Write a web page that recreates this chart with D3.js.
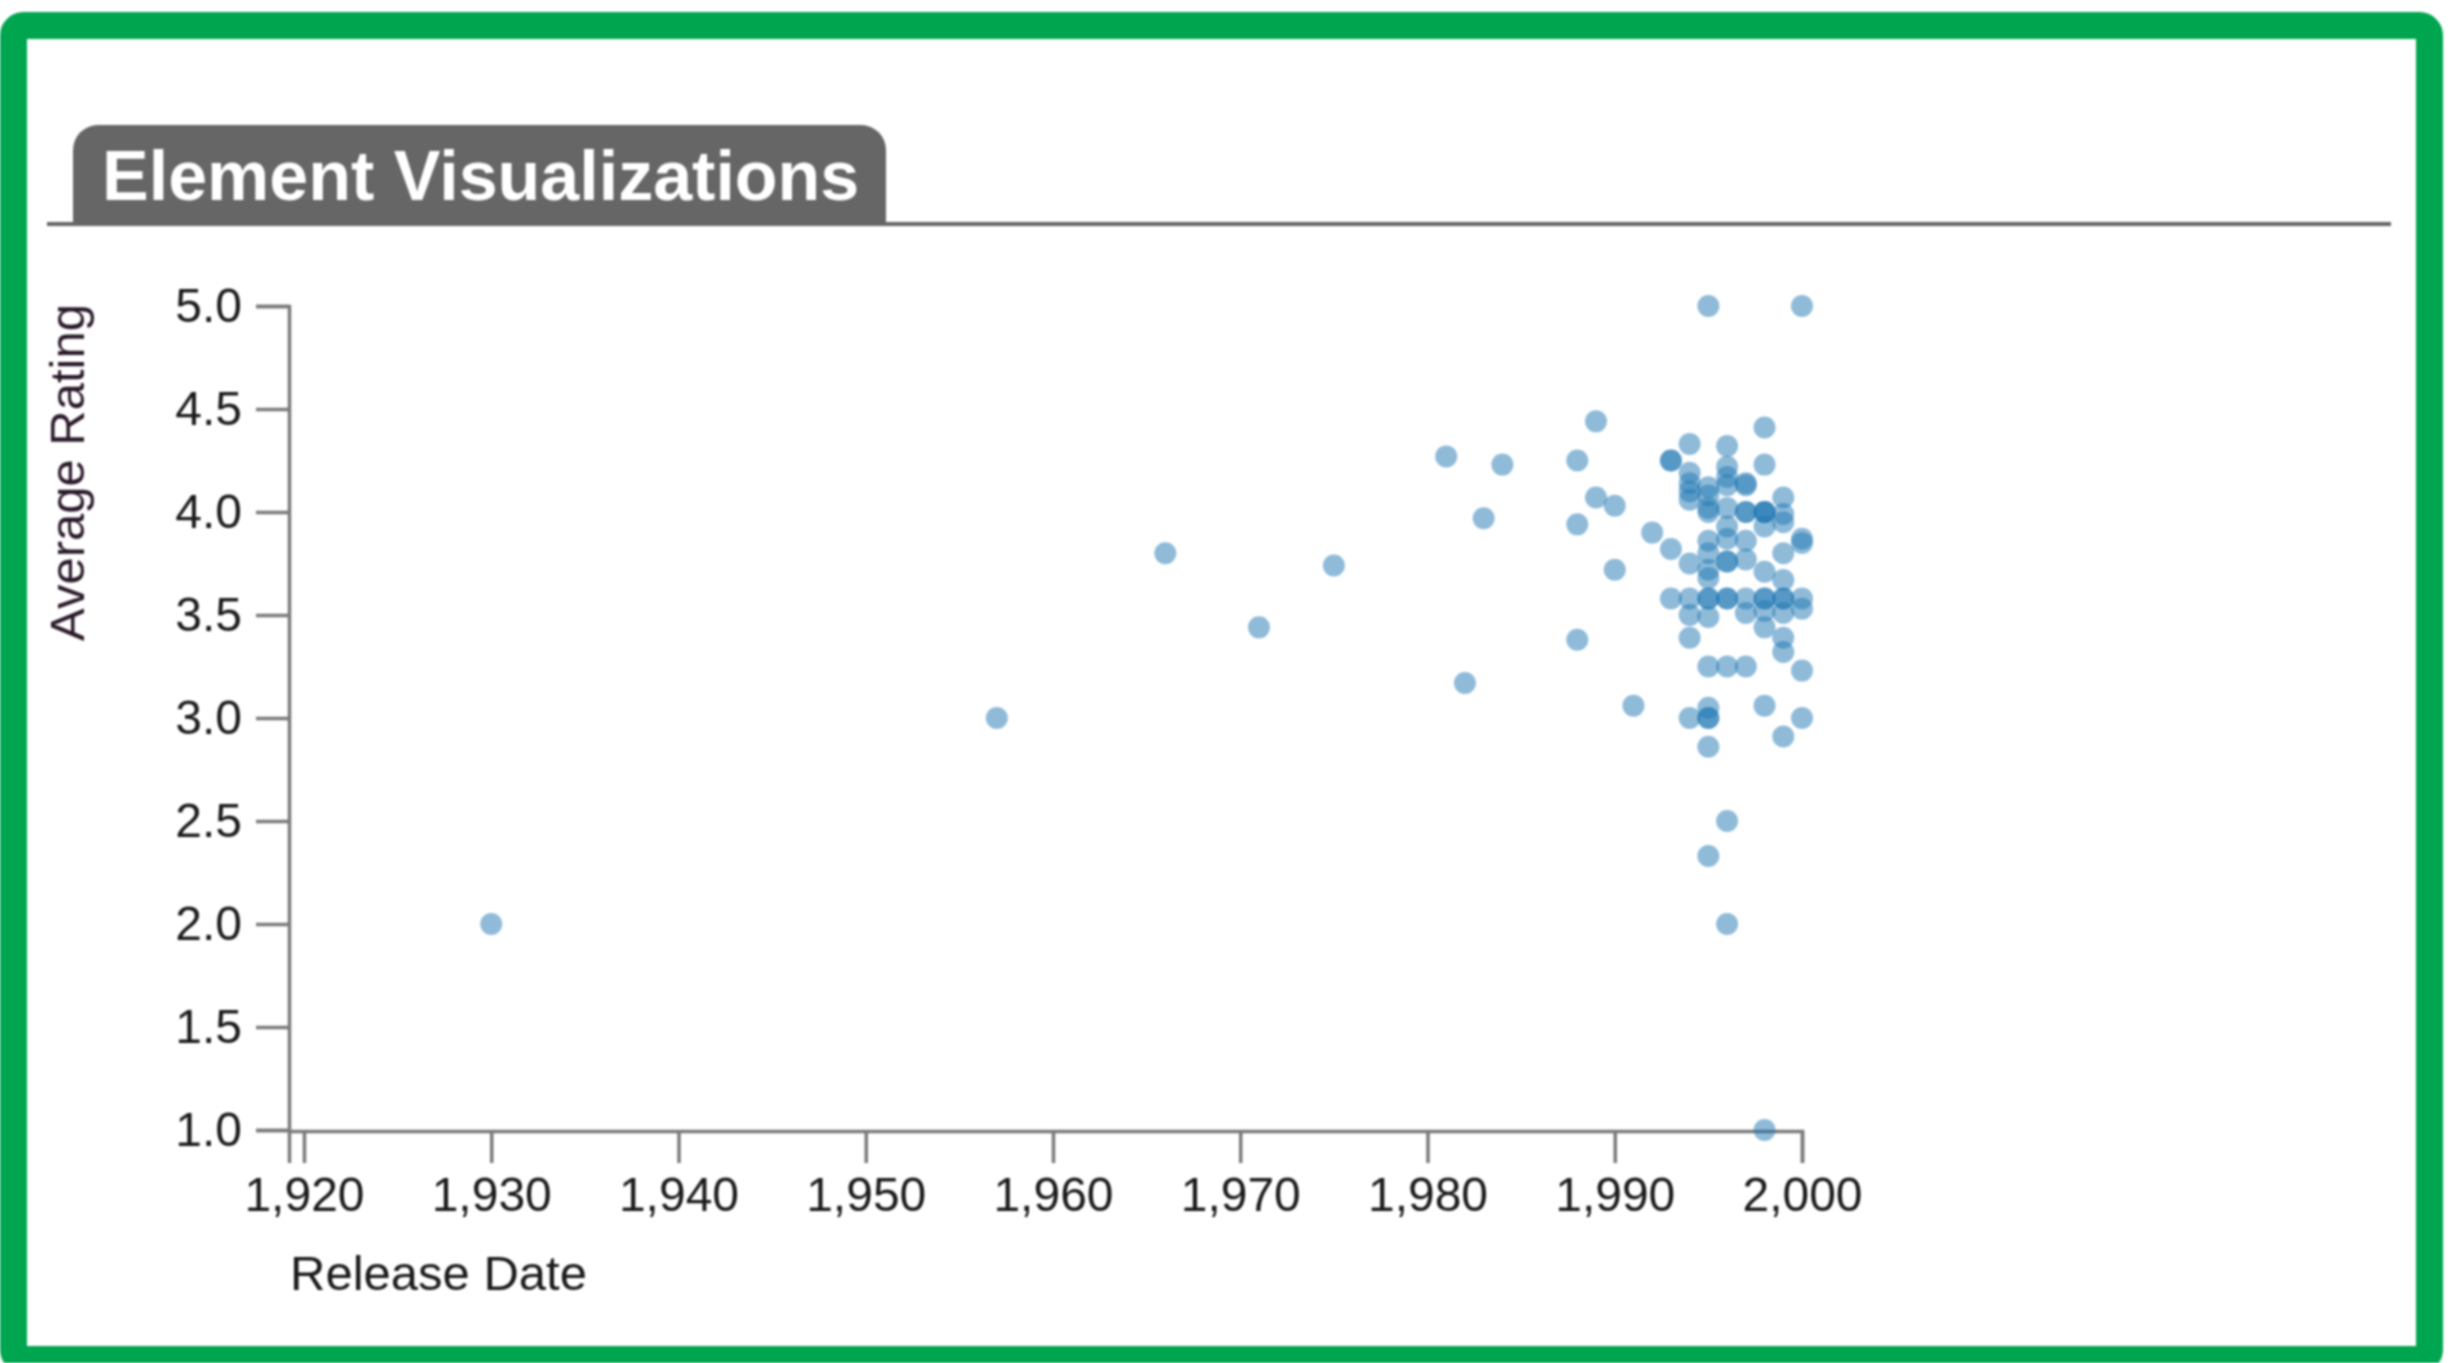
<!DOCTYPE html>
<html>
<head>
<meta charset="utf-8">
<script src="https://cdn.jsdelivr.net/npm/d3@7"></script>
<style>
  body { margin: 0; background: #fff; }
  svg { display: block; font-family: 'Liberation Sans', Arial, sans-serif; filter: blur(0.9px); }
</style>
</head>
<body>
<svg id="chart" width="2458" height="1363"></svg>
<script>
// data: one entry per movie
const releaseYears = [
  1930, 1957, 1966, 1971, 1975, 1981, 1982, 1983, 1984,
  1988, 1988, 1988, 1989, 1989, 1990, 1990, 1991, 1992,
  1993, 1993, 1993, 1993,
  1994, 1994, 1994, 1994, 1994, 1994, 1994, 1994, 1994, 1994,
  1995, 1995, 1995, 1995, 1995, 1995, 1995, 1995, 1995,
  1995, 1995, 1995, 1995, 1995, 1995, 1995, 1995, 1995,
  1996, 1996, 1996, 1996, 1996, 1996, 1996,
  1996, 1996, 1996, 1996, 1996, 1996, 1996,
  1997, 1997, 1997, 1997, 1997, 1997, 1997, 1997, 1997,
  1998, 1998, 1998, 1998, 1998, 1998, 1998,
  1998, 1998, 1998, 1998, 1998, 1998,
  1999, 1999, 1999, 1999, 1999, 1999, 1999, 1999, 1999, 1999, 1999,
  2000, 2000, 2000, 2000, 2000, 2000, 2000
]
const avgRatings = [
  2.0, 3.0, 3.8, 3.44, 3.74, 4.27, 3.17, 3.97, 4.23,
  4.25, 3.94, 3.38, 4.44, 4.07, 4.03, 3.72, 3.06, 3.9,
  4.25, 4.25, 3.82, 3.58,
  4.33, 4.19, 4.14, 4.1, 4.06, 3.75, 3.58, 3.5, 3.39, 3.0,
  5.0, 4.12, 4.08, 4.0, 4.02, 3.86, 3.8, 3.72, 3.68,
  3.58, 3.58, 3.49, 3.25, 3.05, 3.0, 3.0, 2.86, 2.33,
  4.32, 4.22, 4.17, 4.13, 4.02, 3.93, 3.87,
  3.76, 3.76, 3.58, 3.58, 3.25, 2.5, 2.0,
  4.14, 4.13, 4.0, 4.0, 3.86, 3.77, 3.58, 3.51, 3.25,
  4.41, 4.23, 4.0, 4.0, 4.0, 3.93, 3.71,
  3.58, 3.58, 3.52, 3.44, 3.06, 1.0,
  4.07, 3.99, 3.95, 3.8, 3.67, 3.58, 3.58, 3.51, 3.39, 3.32, 2.91,
  5.0, 3.87, 3.85, 3.58, 3.53, 3.23, 3.0
]
const xDomain = [1919.2, 2000]
const yDomain = [1, 5]
const xTicks = [1920, 1930, 1940, 1950, 1960, 1970, 1980, 1990, 2000]
const yTicks = [1.0, 1.5, 2.0, 2.5, 3.0, 3.5, 4.0, 4.5, 5.0]
const titleText = 'Element Visualizations'
const xLabel = 'Release Date'
const yLabel = 'Average Rating'

const svg = d3.select('#chart')

// green frame
svg
  .append('rect')
  .attr('x', 13.5)
  .attr('y', 25.5)
  .attr('width', 2416)
  .attr('height', 1334)
  .attr('rx', 10)
  .attr('fill', 'none')
  .attr('stroke', '#00a64f')
  .attr('stroke-width', 27)

// title tab + rule
const tab = { x0: 73, x1: 886, top: 125, bottom: 224, r: 25 }
svg
  .append('path')
  .attr(
    'd',
    `M${tab.x0},${tab.bottom}V${tab.top + tab.r}A${tab.r},${tab.r} 0 0 1 ${tab.x0 + tab.r},${tab.top}` +
      `H${tab.x1 - tab.r}A${tab.r},${tab.r} 0 0 1 ${tab.x1},${tab.top + tab.r}V${tab.bottom}Z`
  )
  .attr('fill', '#666')

svg
  .append('line')
  .attr('x1', 47)
  .attr('x2', 2391)
  .attr('y1', 224)
  .attr('y2', 224)
  .attr('stroke', '#666')
  .attr('stroke-width', 4)

svg
  .append('text')
  .attr('x', 102)
  .attr('y', 200)
  .attr('fill', '#fff')
  .attr('font-size', 70)
  .attr('font-weight', 'bold')
  .text(titleText)

// scales
const xScale = d3.scaleLinear().domain(xDomain).range([289, 1802])
const yScale = d3.scaleLinear().domain(yDomain).range([1130, 306])

const xAxis = d3.axisBottom(xScale).tickValues(xTicks).tickFormat(d3.format(',')).tickSize(32).tickPadding(14)
const yAxis = d3.axisLeft(yScale).tickValues(yTicks).tickFormat(d3.format('.1f')).tickSize(33).tickPadding(14)

const xAxisG = svg.append('g').attr('transform', `translate(0,${yScale(1) + 1})`).call(xAxis)
const yAxisG = svg.append('g').attr('transform', `translate(${xScale(xDomain[0])},0)`).call(yAxis)

;[xAxisG, yAxisG].forEach(g => {
  g.selectAll('.domain, .tick line').attr('stroke', '#7a7a7a').attr('stroke-width', 3.5)
  g.selectAll('.tick text')
    .attr('fill', '#1a1a1a')
    .attr('font-size', 48)
    .attr('font-family', "'Liberation Sans', Arial, sans-serif")
})

// axis titles
svg
  .append('text')
  .attr('x', 290)
  .attr('y', 1290)
  .attr('font-size', 49)
  .attr('fill', '#1a1a1a')
  .text(xLabel)

svg
  .append('text')
  .attr('transform', 'translate(84,304) rotate(-90)')
  .attr('text-anchor', 'end')
  .attr('font-size', 49)
  .attr('fill', '#2a1a2a')
  .text(yLabel)

// points
const points = releaseYears.map((year, i) => ({ year, rating: avgRatings[i] }))
svg
  .append('g')
  .selectAll('circle')
  .data(points)
  .join('circle')
  .attr('cx', d => xScale(d.year))
  .attr('cy', d => yScale(d.rating))
  .attr('r', 11)
  .attr('fill', '#1f77b4')
  .attr('fill-opacity', 0.5)
</script>
</body>
</html>
